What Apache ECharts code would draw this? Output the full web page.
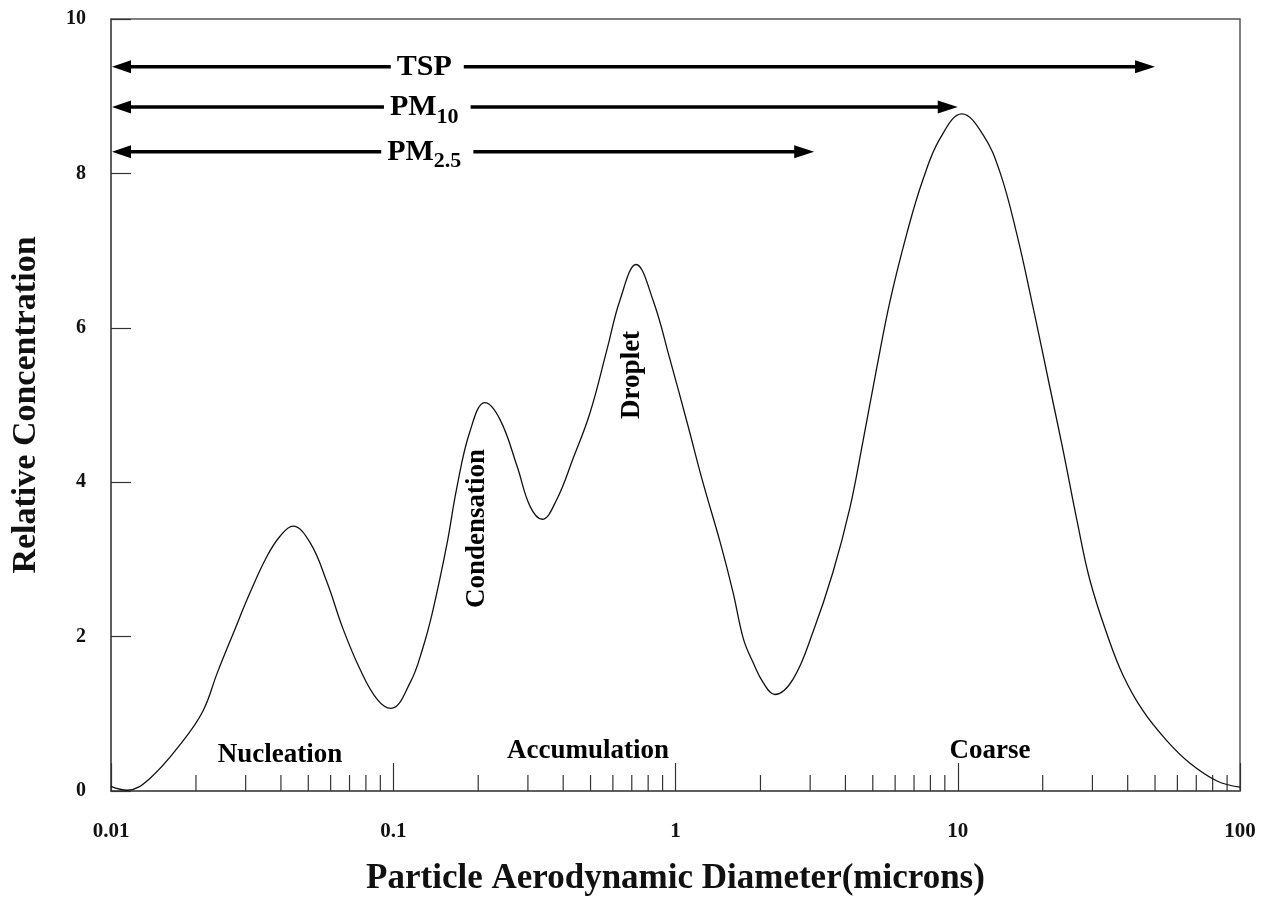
<!DOCTYPE html>
<html>
<head>
<meta charset="utf-8">
<script src="https://cdn.jsdelivr.net/npm/echarts@6/dist/echarts.min.js"></script>
<style>
  html, body { margin: 0; padding: 0; background: #fff; }
  #chart { width: 1270px; height: 901px; }
</style>
</head>
<body>
<div id="chart"></div>
<script>
// size distribution curve (particle diameter in microns, relative concentration)
const sizeUm = [0.01, 0.0114, 0.0137, 0.018, 0.0212, 0.0238, 0.0271, 0.0311, 0.0357, 0.0397,
  0.0441, 0.0507, 0.0583, 0.0664, 0.0762, 0.0876, 0.0982, 0.115, 0.127, 0.138,
  0.155, 0.168, 0.187, 0.211, 0.239, 0.275, 0.305, 0.337, 0.38, 0.433,
  0.498, 0.572, 0.636, 0.725, 0.832, 0.956, 1.10, 1.25, 1.44, 1.60,
  1.74, 1.88, 2.04, 2.25, 2.61, 3.07, 3.61, 4.15, 4.62, 5.17, 5.75,
  6.61, 7.53, 8.65, 10.35, 12.3, 14.1, 16.2, 18.5, 21.2, 23.6,
  26.5, 29.4, 33.8, 38.5, 45.3, 55.1, 66.5, 82.9, 100];
const conc = [0.06, 0.01, 0.16, 0.65, 1.04, 1.53, 2.04, 2.57, 3.04, 3.30,
  3.43, 3.22, 2.70, 2.10, 1.58, 1.19, 1.07, 1.41, 1.84, 2.33,
  3.20, 3.93, 4.66, 5.03, 4.81, 4.20, 3.69, 3.52, 3.78, 4.30,
  4.90, 5.72, 6.36, 6.82, 6.36, 5.59, 4.77, 4.00, 3.22, 2.57,
  1.97, 1.67, 1.41, 1.25, 1.45, 2.06, 2.83, 3.67, 4.54, 5.49, 6.34,
  7.23, 7.92, 8.45, 8.77, 8.50, 8.02, 7.21, 6.26, 5.23, 4.42,
  3.49, 2.73, 2.03, 1.50, 1.04, 0.65, 0.36, 0.13, 0.05];

// size ranges (double arrows)
const rangeNames = ['TSP', 'PM10', 'PM2.5'];
const rangeFrom = [0.01, 0.01, 0.01];
const rangeTo = [50, 10, 3.1];
const rangeLevel = [9.38, 8.86, 8.28];

// mode labels
const modeNames = ['Nucleation', 'Accumulation', 'Coarse', 'Condensation', 'Droplet'];
const modeX = [0.0397, 0.49, 13, 0.198, 0.70];
const modeY = [0.47, 0.52, 0.52, 3.40, 5.39];

// axis ticks and labels
const xTickLabels = ['0.01', '0.1', '1', '10', '100'];
const xMinorTicks = [0.02, 0.03, 0.04, 0.05, 0.06, 0.07, 0.08, 0.09,
  0.2, 0.3, 0.4, 0.5, 0.6, 0.7, 0.8, 0.9,
  2, 3, 4, 5, 6, 7, 8, 9,
  20, 30, 40, 50, 60, 70, 80, 90];
const yTickLabels = ['0', '2', '4', '6', '8', '10'];

const FONT = '"Liberation Serif", "Times New Roman", serif';
const AXIS_COLOR = '#555';
const verticalModes = ['Condensation', 'Droplet'];

const rangeLabelText = {
  'TSP': '{m|TSP}',
  'PM10': '{m|PM}{s|10}',
  'PM2.5': '{m|PM}{s|2.5}'
};
const labelAnchorX = 0.132;

const chart = echarts.init(document.getElementById('chart'));

chart.setOption({
  animation: false,
  backgroundColor: '#fff',
  grid: {
    left: 111,
    right: 30,
    top: 19,
    bottom: 109,
    show: true,
    borderColor: AXIS_COLOR,
    borderWidth: 1.5
  },
  xAxis: {
    type: 'log',
    logBase: 10,
    min: 0.01,
    max: 100,
    name: 'Particle Aerodynamic Diameter(microns)',
    nameLocation: 'middle',
    nameGap: 70,
    nameTextStyle: { fontFamily: FONT, fontWeight: 'bold', fontSize: 35, color: '#111' },
    axisLine: { lineStyle: { color: AXIS_COLOR, width: 1.5 } },
    axisTick: { inside: true, length: 28, lineStyle: { color: '#333', width: 1.2 } },
    minorTick: { show: false },
    splitLine: { show: false },
    axisLabel: {
      margin: 30,
      fontFamily: FONT,
      fontWeight: 'bold',
      fontSize: 21,
      color: '#111',
      formatter: function (v) {
        return xTickLabels[Math.round(Math.log10(v)) + 2];
      }
    }
  },
  yAxis: {
    type: 'value',
    min: 0,
    max: 10,
    interval: 2,
    name: 'Relative Concentration',
    nameLocation: 'middle',
    nameGap: 68,
    nameTextStyle: { fontFamily: FONT, fontWeight: 'bold', fontSize: 34, color: '#111' },
    axisLine: { show: true, lineStyle: { color: AXIS_COLOR, width: 1.5 } },
    axisTick: { show: true, inside: true, length: 20, lineStyle: { color: '#333', width: 1.2 } },
    splitLine: { show: false },
    axisLabel: {
      margin: 25,
      fontFamily: FONT,
      fontWeight: 'bold',
      fontSize: 20,
      color: '#111',
      formatter: function (v) {
        return yTickLabels[Math.round(v / 2)];
      }
    }
  },
  series: [
    {
      name: 'concentration',
      type: 'line',
      data: sizeUm.map(function (x, i) { return [x, conc[i]]; }),
      smooth: 0.4,
      showSymbol: false,
      lineStyle: { color: '#111', width: 1.3 },
      z: 3
    },
    {
      // minor ticks on the log axis
      name: 'minorTicks',
      type: 'custom',
      data: xMinorTicks.map(function (v) { return [v, 0]; }),
      silent: true,
      renderItem: function (params, api) {
        const p = api.coord([api.value(0), 0]);
        return {
          type: 'line',
          shape: { x1: p[0], y1: p[1], x2: p[0], y2: p[1] - 16 },
          style: { stroke: '#333', lineWidth: 1.2 }
        };
      },
      z: 2
    },
    {
      // size range arrows
      name: 'ranges',
      type: 'custom',
      data: rangeNames.map(function (n, i) { return [rangeFrom[i], rangeTo[i], rangeLevel[i], i]; }),
      silent: true,
      renderItem: function (params, api) {
        const y = api.value(2);
        const p0 = api.coord([api.value(0), y]);
        const p1 = api.coord([api.value(1), y]);
        const pt = api.coord([labelAnchorX, y]);
        const L = 20, W = 6.5;
        const name = rangeNames[api.value(3)];
        return {
          type: 'group',
          children: [
            {
              type: 'line',
              shape: { x1: p0[0] + L - 2, y1: p0[1], x2: p1[0] - L + 2, y2: p1[1] },
              style: { stroke: '#000', lineWidth: 3.5 }
            },
            {
              type: 'polygon',
              shape: { points: [[p0[0] + 1, p0[1]], [p0[0] + L, p0[1] - W], [p0[0] + L, p0[1] + W]] },
              style: { fill: '#000' }
            },
            {
              type: 'polygon',
              shape: { points: [[p1[0], p1[1]], [p1[0] - L, p1[1] - W], [p1[0] - L, p1[1] + W]] },
              style: { fill: '#000' }
            },
            {
              type: 'text',
              x: pt[0],
              y: pt[1],
              z2: 10,
              style: {
                text: rangeLabelText[name],
                align: 'center',
                verticalAlign: 'middle',
                backgroundColor: '#fff',
                padding: [0, 12, 0, 6],
                rich: {
                  m: { fontFamily: FONT, fontWeight: 'bold', fontSize: 30, fill: '#000', verticalAlign: 'top', lineHeight: 30 },
                  s: { fontFamily: FONT, fontWeight: 'bold', fontSize: 22, fill: '#000', verticalAlign: 'top', lineHeight: 22, padding: [14, 0, 0, 0] }
                }
              }
            }
          ]
        };
      },
      z: 4
    },
    {
      // mode names
      name: 'modes',
      type: 'custom',
      silent: true,
      data: modeNames.map(function (n, i) { return [modeX[i], modeY[i], i]; }),
      renderItem: function (params, api) {
        const p = api.coord([api.value(0), api.value(1)]);
        const name = modeNames[api.value(2)];
        return {
          type: 'text',
          x: p[0],
          y: p[1],
          rotation: verticalModes.indexOf(name) >= 0 ? Math.PI / 2 : 0,
          style: {
            text: name,
            align: 'center',
            verticalAlign: 'middle',
            fontFamily: FONT,
            fontWeight: 'bold',
            fontSize: 27,
            fill: '#000'
          }
        };
      },
      z: 5
    }
  ]
});

window.addEventListener('resize', function () {
  chart.resize();
});
</script>
</body>
</html>
